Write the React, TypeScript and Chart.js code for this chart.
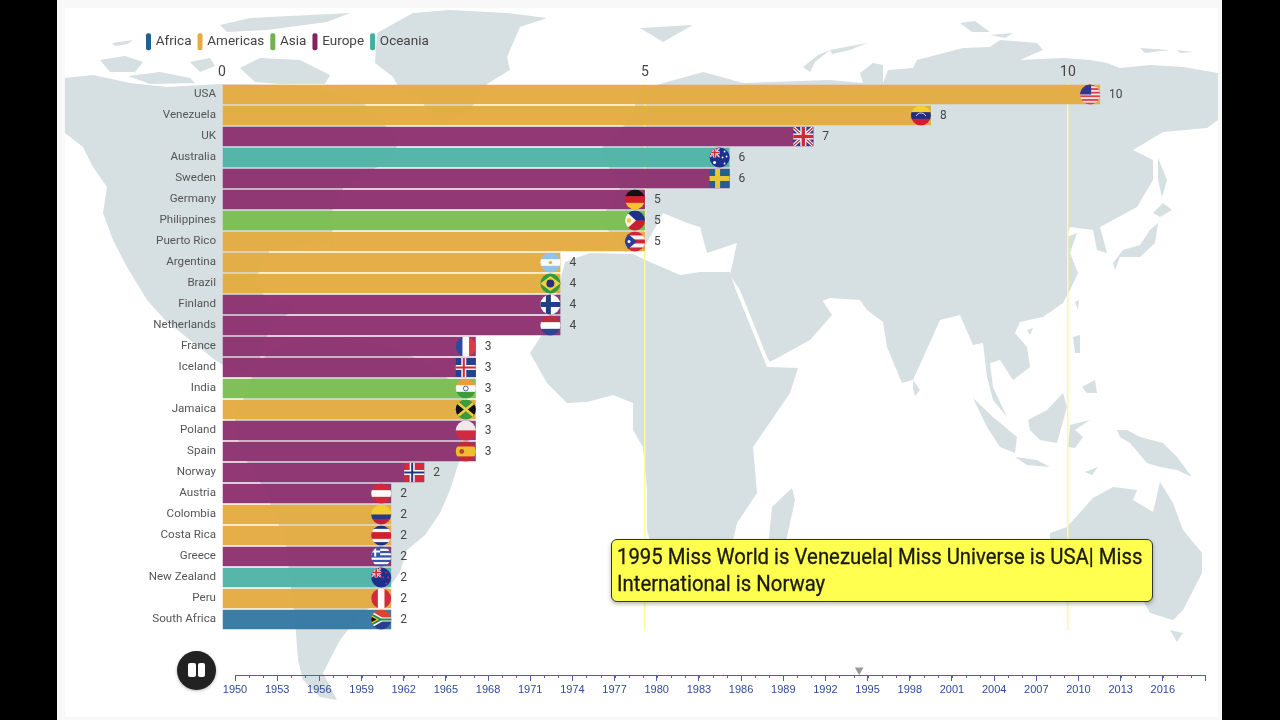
import { useEffect, useRef } from "react";
import Chart from "chart.js/auto";

const countries = ["USA", "Venezuela", "UK", "Australia", "Sweden", "Germany", "Philippines", "Puerto Rico", "Argentina", "Brazil", "Finland", "Netherlands", "France", "Iceland", "India", "Jamaica", "Poland", "Spain", "Norway", "Austria", "Colombia", "Costa Rica", "Greece", "New Zealand", "Peru", "South Africa"];
// bars are caught mid animation, so a few of them sit past their printed value
const barValues = [10.38, 8.38, 6.99, 6, 6, 5, 5, 5, 4, 4, 4, 4, 3, 3, 3, 3, 3, 3, 2.39, 2, 2, 2, 2, 2, 2, 2];
const valueLabels = [10, 8, 7, 6, 6, 5, 5, 5, 4, 4, 4, 4, 3, 3, 3, 3, 3, 3, 2, 2, 2, 2, 2, 2, 2, 2];
const barContinents = ["Americas", "Americas", "Europe", "Oceania", "Europe", "Europe", "Asia", "Americas", "Americas", "Americas", "Europe", "Europe", "Europe", "Europe", "Asia", "Americas", "Europe", "Europe", "Europe", "Europe", "Americas", "Americas", "Europe", "Oceania", "Americas", "Africa"];
const continents = ["Africa", "Americas", "Asia", "Europe", "Oceania"];
const xTicks = [0, 5, 10];
const timelineYears = [1950, 1953, 1956, 1959, 1962, 1965, 1968, 1971, 1974, 1977, 1980, 1983, 1986, 1989, 1992, 1995, 1998, 2001, 2004, 2007, 2010, 2013, 2016];
const timelineEnd = 2019;
const currentYear = 1994.4;

const barColors: Record<string, string> = {
  Africa: "rgba(49,118,160,0.95)",
  Americas: "rgba(228,170,62,0.95)",
  Asia: "rgba(122,189,80,0.95)",
  Europe: "rgba(140,46,110,0.95)",
  Oceania: "rgba(78,178,165,0.95)",
};
const legendColors: Record<string, string> = {
  Africa: "#1f6090",
  Americas: "#e8ac3e",
  Asia: "#6fb54e",
  Europe: "#84235f",
  Oceania: "#45aea2",
};

// backdrop map outlines in page pixels, traced by eye
const land: number[][][] = [
  // north america
  [[65,78],[93,75],[130,83],[167,87],[220,84],[300,85],[360,100],[400,140],[390,160],[345,185],[330,215],[335,250],[320,240],[300,245],[270,250],[255,280],[270,305],[290,300],[295,310],[270,325],[265,345],[255,370],[240,375],[215,360],[190,340],[165,320],[147,300],[127,267],[113,240],[103,213],[107,187],[93,167],[83,147],[65,133]],
  // south america
  [[255,370],[270,350],[300,337],[340,338],[385,345],[420,360],[450,380],[472,410],[470,440],[458,465],[450,490],[440,513],[425,535],[407,550],[400,572],[380,600],[360,615],[340,640],[323,673],[337,700],[320,697],[303,680],[298,660],[295,620],[290,580],[285,540],[265,490],[240,450],[235,420],[245,395]],
  // greenland
  [[413,13],[450,10],[507,13],[547,18],[520,27],[513,43],[507,57],[510,70],[487,84],[470,110],[440,125],[420,100],[397,84],[393,77],[375,63],[377,33]],
  // canadian arctic
  [[220,25],[250,18],[350,13],[327,22],[267,30],[227,32]],
  [[112,43],[133,40],[128,44],[115,46]],
  [[100,60],[125,56],[143,62],[135,72],[110,72]],
  [[128,76],[160,72],[190,78],[195,83],[150,84]],
  [[190,62],[210,58],[215,66],[200,72]],
  [[240,68],[260,58],[300,60],[330,75],[325,84],[280,84],[255,82]],
  // eurasia
  [[740,290],[730,275],[737,243],[707,253],[700,227],[687,223],[663,213],[643,250],[625,252],[600,220],[620,190],[600,150],[630,120],[640,90],[667,82],[703,72],[743,83],[830,80],[863,83],[883,83],[888,70],[913,68],[917,60],[963,48],[990,47],[1000,40],[1037,43],[1043,50],[1020,60],[1063,58],[1090,60],[1107,63],[1120,68],[1150,65],[1183,67],[1218,73],[1218,120],[1207,128],[1163,132],[1133,150],[1153,160],[1153,180],[1137,207],[1100,227],[1107,253],[1097,250],[1093,230],[1070,227],[1067,237],[1077,233],[1070,253],[1078,273],[1070,290],[1063,303],[1043,317],[1020,322],[1015,333],[1027,347],[1030,367],[1013,380],[1000,360],[990,363],[993,387],[1007,417],[993,400],[987,377],[983,343],[973,345],[960,315],[940,320],[913,380],[902,383],[887,347],[883,322],[867,310],[860,300],[830,298],[817,303],[803,300],[793,290],[820,297],[832,315],[810,340],[770,362],[767,357]],
  // africa
  [[565,262],[590,253],[633,254],[650,262],[680,275],[700,272],[730,272],[735,288],[767,367],[798,368],[790,393],[753,447],[757,493],[737,523],[733,540],[715,575],[680,590],[660,580],[647,530],[647,490],[643,447],[633,430],[633,403],[613,395],[587,402],[567,403],[547,383],[530,353],[543,333],[555,300]],
  // madagascar
  [[792,488],[795,500],[787,537],[782,548],[768,548],[772,507]],
  // svalbard and the arctic islands
  [[640,28],[693,25],[663,42]],
  [[860,73],[873,63],[883,65],[883,83],[863,83]],
  [[960,23],[975,21],[990,32],[972,32]],
  [[990,35],[1013,33],[1005,38]],
  [[830,50],[867,43],[850,50],[832,54]],
  [[1140,48],[1170,50],[1145,53]],
  [[1177,50],[1193,52],[1180,53]],
  [[803,67],[818,55],[830,50],[815,62],[810,72]],
  // sakhalin, japan
  [[1158,158],[1167,180],[1162,197],[1158,180]],
  [[1153,213],[1163,203],[1172,210],[1160,217]],
  [[1113,263],[1123,250],[1140,245],[1150,230],[1158,223],[1155,243],[1140,257],[1120,257],[1115,270]],
  // south east asia
  [[1075,302],[1079,300],[1078,310]],
  [[1027,330],[1033,328],[1030,335]],
  [[913,380],[920,390],[915,396],[913,388]],
  [[973,398],[993,417],[1017,437],[1015,453],[1000,447],[987,427]],
  [[1015,457],[1037,460],[1050,467],[1027,465]],
  [[1028,420],[1047,410],[1063,393],[1067,407],[1057,443],[1040,440],[1030,430]],
  [[1070,425],[1090,420],[1075,430],[1083,437],[1075,448],[1068,447]],
  [[1073,337],[1080,335],[1080,353],[1075,353]],
  [[1082,387],[1095,380],[1097,393],[1087,393]],
  [[1085,472],[1098,467],[1092,475]],
  // new guinea
  [[1117,430],[1127,430],[1140,437],[1163,443],[1177,457],[1192,477],[1177,470],[1160,467],[1147,463],[1130,443],[1120,437]],
  // australia, tasmania
  [[1050,533],[1067,527],[1093,498],[1113,487],[1137,490],[1133,500],[1153,512],[1160,482],[1173,503],[1183,530],[1202,553],[1202,573],[1183,610],[1173,620],[1150,613],[1143,600],[1050,590]],
  [[1170,630],[1183,633],[1177,642]],
];

type Ctx = CanvasRenderingContext2D;

function hStripes(ctx: Ctx, colors: string[], weights?: number[]) {
  const total = (weights ?? colors.map(() => 1)).reduce((a, b) => a + b, 0);
  let y = -10;
  colors.forEach((c, i) => {
    const h = (20 * (weights ? weights[i] : 1)) / total;
    ctx.fillStyle = c;
    ctx.fillRect(-11, y, 22, h + 0.3);
    y += h;
  });
}
function vStripes(ctx: Ctx, colors: string[]) {
  colors.forEach((c, i) => {
    ctx.fillStyle = c;
    ctx.fillRect(-10 + (20 * i) / colors.length, -11, 20 / colors.length + 0.3, 22);
  });
}
function poly(ctx: Ctx, color: string, pts: number[][]) {
  ctx.fillStyle = color;
  ctx.beginPath();
  pts.forEach(([x, y], i) => (i ? ctx.lineTo(x, y) : ctx.moveTo(x, y)));
  ctx.closePath();
  ctx.fill();
}
function dot(ctx: Ctx, color: string, x: number, y: number, r: number) {
  ctx.fillStyle = color;
  ctx.beginPath();
  ctx.arc(x, y, r, 0, Math.PI * 2);
  ctx.fill();
}
function nordic(ctx: Ctx, bg: string, outer: string, inner?: string) {
  ctx.fillStyle = bg;
  ctx.fillRect(-11, -11, 22, 22);
  ctx.fillStyle = outer;
  ctx.fillRect(-4.5, -11, 5, 22);
  ctx.fillRect(-11, -2.5, 22, 5);
  if (inner) {
    ctx.fillStyle = inner;
    ctx.fillRect(-3, -11, 2, 22);
    ctx.fillRect(-11, -1, 22, 2);
  }
}
function unionJack(ctx: Ctx) {
  ctx.fillStyle = "#27408b";
  ctx.fillRect(-11, -11, 22, 22);
  ctx.lineCap = "butt";
  ctx.strokeStyle = "#fff";
  ctx.lineWidth = 3.4;
  ctx.beginPath();
  ctx.moveTo(-11, -10);
  ctx.lineTo(11, 10);
  ctx.moveTo(11, -10);
  ctx.lineTo(-11, 10);
  ctx.stroke();
  ctx.strokeStyle = "#cf2a3c";
  ctx.lineWidth = 1.3;
  ctx.stroke();
  ctx.fillStyle = "#fff";
  ctx.fillRect(-3, -11, 6, 22);
  ctx.fillRect(-11, -3, 22, 6);
  ctx.fillStyle = "#cf2a3c";
  ctx.fillRect(-1.7, -11, 3.4, 22);
  ctx.fillRect(-11, -1.7, 22, 3.4);
}
function smallJack(ctx: Ctx) {
  ctx.save();
  ctx.beginPath();
  ctx.rect(-10, -10, 10, 10);
  ctx.clip();
  ctx.translate(-5, -5);
  ctx.scale(0.5, 0.5);
  unionJack(ctx);
  ctx.restore();
}

// flags are only decoration at the end of each bar
const flags: Record<string, (ctx: Ctx) => void> = {
  USA: (ctx) => {
    hStripes(ctx, ["#d9414f", "#f6e3e3", "#d9414f", "#f6e3e3", "#d9414f", "#f6e3e3", "#d9414f", "#f6e3e3", "#d9414f", "#f6e3e3", "#d9414f"]);
    ctx.fillStyle = "#33378c";
    ctx.fillRect(-11, -11, 12, 11);
  },
  Venezuela: (ctx) => {
    hStripes(ctx, ["#f5cf38", "#1f2f86", "#cf2030"]);
    ctx.strokeStyle = "#e8e8f4";
    ctx.lineWidth = 0.9;
    ctx.beginPath();
    ctx.arc(0, 3, 5.5, Math.PI * 1.15, Math.PI * 1.85);
    ctx.stroke();
  },
  UK: unionJack,
  Australia: (ctx) => {
    ctx.fillStyle = "#1d2f8f";
    ctx.fillRect(-11, -11, 22, 22);
    smallJack(ctx);
    [[-5, 5, 1.5], [5, -6, 0.9], [7, -1, 0.9], [3, 0, 0.9], [5, 6, 0.9]].forEach(([x, y, r]) => dot(ctx, "#fff", x, y, r));
  },
  Sweden: (ctx) => nordic(ctx, "#22608f", "#e9c53a"),
  Germany: (ctx) => hStripes(ctx, ["#111", "#d1202c", "#f4c52e"]),
  Philippines: (ctx) => {
    hStripes(ctx, ["#1f2f8a", "#c8202f"]);
    poly(ctx, "#f6f3e4", [[-11, -11], [1, 0], [-11, 11]]);
    dot(ctx, "#eecb3a", -6, 0, 2.2);
  },
  "Puerto Rico": (ctx) => {
    hStripes(ctx, ["#cf2638", "#f6f0f0", "#cf2638", "#f6f0f0", "#cf2638"]);
    poly(ctx, "#2b3f90", [[-11, -11], [2, 0], [-11, 11]]);
    dot(ctx, "#fff", -6, 0, 1.5);
  },
  Argentina: (ctx) => {
    hStripes(ctx, ["#8fc4e8", "#fbfbfb", "#8fc4e8"]);
    dot(ctx, "#e3b64a", 0, 0, 1.8);
  },
  Brazil: (ctx) => {
    ctx.fillStyle = "#2f9a3e";
    ctx.fillRect(-11, -11, 22, 22);
    poly(ctx, "#f0d33a", [[-10, 0], [0, -7.5], [10, 0], [0, 7.5]]);
    dot(ctx, "#28307e", 0, 0, 4);
  },
  Finland: (ctx) => nordic(ctx, "#fbfbfb", "#1f3f86"),
  Netherlands: (ctx) => hStripes(ctx, ["#b8303f", "#fbfbfb", "#2f4490"]),
  France: (ctx) => vStripes(ctx, ["#2a4a9b", "#fbfbfb", "#dc3b45"]),
  Iceland: (ctx) => nordic(ctx, "#26408f", "#f5f5f5", "#d22a3a"),
  India: (ctx) => {
    hStripes(ctx, ["#ef9a3c", "#fbfbfb", "#3f9a3e"]);
    ctx.strokeStyle = "#2a3f8f";
    ctx.lineWidth = 0.8;
    ctx.beginPath();
    ctx.arc(0, 0, 2.4, 0, Math.PI * 2);
    ctx.stroke();
  },
  Jamaica: (ctx) => {
    hStripes(ctx, ["#3f9a3e"]);
    poly(ctx, "#111", [[-11, -9], [0, 0], [-11, 9]]);
    poly(ctx, "#111", [[11, -9], [0, 0], [11, 9]]);
    ctx.strokeStyle = "#f2cf38";
    ctx.lineWidth = 2.6;
    ctx.beginPath();
    ctx.moveTo(-11, -9);
    ctx.lineTo(11, 9);
    ctx.moveTo(11, -9);
    ctx.lineTo(-11, 9);
    ctx.stroke();
  },
  Poland: (ctx) => hStripes(ctx, ["#f0e8ea", "#d12a40"]),
  Spain: (ctx) => {
    hStripes(ctx, ["#c9262f", "#f0bd30", "#c9262f"], [1, 2, 1]);
    dot(ctx, "#b4442c", -4, 0, 2.4);
  },
  Norway: (ctx) => nordic(ctx, "#d32a3c", "#fff", "#24367f"),
  Austria: (ctx) => hStripes(ctx, ["#d3283c", "#fbfbfb", "#d3283c"]),
  Colombia: (ctx) => hStripes(ctx, ["#f2cc36", "#26398c", "#c9202f"], [2, 1, 1]),
  "Costa Rica": (ctx) => hStripes(ctx, ["#1f2f80", "#f7f7f7", "#d0202f", "#f7f7f7", "#1f2f80"], [1, 1, 2, 1, 1]),
  Greece: (ctx) => {
    hStripes(ctx, ["#3458a8", "#fff", "#3458a8", "#fff", "#3458a8", "#fff", "#3458a8", "#fff", "#3458a8"]);
    ctx.fillStyle = "#3458a8";
    ctx.fillRect(-11, -11, 10, 11);
    ctx.fillStyle = "#fff";
    ctx.fillRect(-7, -10, 2, 10);
    ctx.fillRect(-11, -6, 10, 2);
  },
  "New Zealand": (ctx) => {
    ctx.fillStyle = "#1d2f8f";
    ctx.fillRect(-11, -11, 22, 22);
    smallJack(ctx);
    [[5, -5], [2, 0], [7, 0], [5, 6]].forEach(([x, y]) => dot(ctx, "#d8283a", x, y, 1));
  },
  Peru: (ctx) => vStripes(ctx, ["#d32a3c", "#fbfbfb", "#d32a3c"]),
  "South Africa": (ctx) => {
    hStripes(ctx, ["#d9452f", "#2a3d8f"]);
    poly(ctx, "#fff", [[-11, -9], [1, -2], [11, -2], [11, 2], [1, 2], [-11, 9]]);
    poly(ctx, "#1e8a4a", [[-11, -7], [0, -1], [11, -1], [11, 1], [0, 1], [-11, 7]]);
    poly(ctx, "#f0c030", [[-11, -5], [-2, 0], [-11, 5]]);
    poly(ctx, "#111", [[-11, -3.5], [-4.5, 0], [-11, 3.5]]);
  },
};
const squareFlags = ["UK", "Sweden", "Iceland", "Norway"];

const backdrop = {
  id: "backdrop",
  beforeDraw(chart: Chart) {
    const { ctx, width, height } = chart;
    ctx.save();
    ctx.fillStyle = "#000";
    ctx.fillRect(0, 0, width, height);
    ctx.fillStyle = "#f8f8f8";
    ctx.fillRect(57, 0, 1165, 720);
    ctx.fillStyle = "#fff";
    ctx.fillRect(65, 8, 1153, 709);
    ctx.fillStyle = "#d6dfe2";
    land.forEach((shape) => {
      ctx.beginPath();
      shape.forEach(([x, y], i) => (i ? ctx.lineTo(x, y) : ctx.moveTo(x, y)));
      ctx.closePath();
      ctx.fill();
    });
    ctx.restore();
  },
};

const barEnds = {
  id: "barEnds",
  afterDatasetsDraw(chart: Chart) {
    const { ctx } = chart;
    const bars = chart.getDatasetMeta(0).data;
    bars.forEach((bar, i) => {
      const name = countries[i];
      ctx.save();
      ctx.translate(bar.x - 10, bar.y);
      ctx.beginPath();
      if (squareFlags.includes(name)) ctx.rect(-10, -9.5, 20, 19);
      else ctx.arc(0, 0, 10, 0, Math.PI * 2);
      ctx.clip();
      flags[name](ctx);
      ctx.restore();

      ctx.save();
      ctx.fillStyle = "#444";
      ctx.font = "12px Roboto";
      ctx.textBaseline = "middle";
      ctx.fillText(String(valueLabels[i]), bar.x + 9, bar.y + 0.5);
      ctx.restore();
    });
  },
};

const yearTicks = {
  id: "yearTicks",
  afterDraw(chart: Chart) {
    const { ctx } = chart;
    const scale = chart.scales.x;
    ctx.save();
    ctx.strokeStyle = "#4a62a8";
    ctx.lineWidth = 1;
    ctx.beginPath();
    for (let year = 1950; year <= timelineEnd; year++) {
      const x = Math.round(scale.getPixelForValue(year)) + 0.5;
      ctx.moveTo(x, scale.top);
      ctx.lineTo(x, scale.top + 3);
    }
    ctx.stroke();
    ctx.restore();
  },
};

export default function App() {
  const mainRef = useRef<HTMLCanvasElement | null>(null);
  const timelineRef = useRef<HTMLCanvasElement | null>(null);

  useEffect(() => {
    if (!mainRef.current || !timelineRef.current) return;

    const main = new Chart(mainRef.current, {
      type: "bar",
      data: {
        labels: countries,
        datasets: [
          {
            data: barValues,
            backgroundColor: barContinents.map((c) => barColors[c]),
            borderWidth: 0,
            barPercentage: 0.92,
            categoryPercentage: 1,
          },
        ],
      },
      plugins: [backdrop, barEnds],
      options: {
        indexAxis: "y",
        animation: false,
        responsive: false,
        events: [],
        layout: { padding: { left: 140, top: 27, right: 20, bottom: 90 } },
        plugins: {
          tooltip: { enabled: false },
          legend: {
            position: "top",
            align: "start",
            labels: {
              boxWidth: 1,
              boxHeight: 13,
              padding: 8,
              font: { family: "Roboto", size: 13.5 },
              color: "#444",
              generateLabels: () =>
                continents.map((c) => ({
                  text: c,
                  fillStyle: legendColors[c],
                  strokeStyle: legendColors[c],
                  lineWidth: 4,
                  lineJoin: "round",
                  fontColor: "#444",
                })),
            },
          },
        },
        scales: {
          x: {
            position: "top",
            min: 0,
            max: 12.27,
            afterBuildTicks: (scale: any) => {
              scale.ticks = xTicks.map((value) => ({ value }));
            },
            afterFit: (scale: any) => {
              scale.height = 84 - 27 - scale.chart.legend.height;
            },
            border: { display: false },
            grid: {
              drawTicks: false,
              color: (c: any) => (c.tick && c.tick.value > 0 ? "#fbfb9c" : "rgba(0,0,0,0)"),
              lineWidth: 1.5,
            },
            ticks: {
              padding: 3,
              color: "#444",
              font: { family: "Roboto", size: 14 },
            },
          },
          y: {
            afterFit: (scale: any) => {
              scale.width = 82;
            },
            border: { display: false },
            grid: { display: false, drawTicks: false },
            ticks: {
              autoSkip: false,
              padding: 6,
              color: "#555",
              font: { family: "Roboto", size: 11.6 },
            },
          },
        },
      },
    });

    const timeline = new Chart(timelineRef.current, {
      type: "scatter",
      data: {
        datasets: [
          {
            data: [{ x: currentYear, y: 0.14 }],
            pointStyle: "triangle",
            rotation: 180,
            radius: 5,
            backgroundColor: "#9a9a9a",
            borderWidth: 0,
          },
        ],
      },
      plugins: [yearTicks],
      options: {
        animation: false,
        responsive: false,
        events: [],
        layout: { padding: { left: 235, right: 75, top: 640, bottom: 21 } },
        plugins: { legend: { display: false }, tooltip: { enabled: false } },
        scales: {
          y: { display: false, min: 0, max: 1 },
          x: {
            type: "linear",
            min: 1950,
            max: timelineEnd,
            afterBuildTicks: (scale: any) => {
              scale.ticks = [...timelineYears, timelineEnd].map((value) => ({ value }));
            },
            afterFit: (scale: any) => {
              scale.height = 24;
            },
            border: { color: "#4a62a8" },
            grid: { drawOnChartArea: false, tickLength: 6, tickColor: "#4a62a8" },
            ticks: {
              maxRotation: 0,
              autoSkip: false,
              padding: 2,
              color: "#2f4b9a",
              font: { family: "Liberation Sans", size: 11 },
              callback: (v: any) => (v === timelineEnd ? "" : String(v)),
            },
          },
        },
      },
    });

    return () => {
      main.destroy();
      timeline.destroy();
    };
  }, []);

  return (
    <div style={{ position: "fixed", inset: 0, background: "#000", overflow: "hidden" }}>
      <canvas ref={mainRef} width={1280} height={720} style={{ position: "absolute", left: 0, top: 0 }} />
      <canvas ref={timelineRef} width={1280} height={720} style={{ position: "absolute", left: 0, top: 0 }} />
      <div
        style={{
          position: "absolute",
          left: 611,
          top: 539,
          width: 540,
          height: 61,
          boxSizing: "content-box",
          background: "#ffff50",
          border: "1px solid #333",
          borderRadius: 6,
          boxShadow: "0 2px 4px rgba(0,0,0,0.3)",
          overflow: "hidden",
        }}
      >
        <div
          style={{
            position: "absolute",
            left: 5,
            top: 3,
            font: "22px/27px Roboto",
            color: "#1a1a10",
            whiteSpace: "nowrap",
            transform: "scaleX(0.924)",
            transformOrigin: "left top",
            WebkitTextStroke: "0.3px #1a1a10",
          }}
        >
          1995 Miss World is Venezuela| Miss Universe is USA| Miss
          <br />
          International is Norway
        </div>
      </div>
      <div
        style={{
          position: "absolute",
          left: 177,
          top: 651,
          width: 39,
          height: 39,
          borderRadius: "50%",
          background: "#222",
          boxShadow: "0 1px 3px rgba(0,0,0,0.3)",
        }}
      >
        <div style={{ position: "absolute", left: 11, top: 12, width: 8, height: 14, borderRadius: 2, background: "#fff" }} />
        <div style={{ position: "absolute", left: 21, top: 12, width: 7, height: 14, borderRadius: 2, background: "#fff" }} />
      </div>
    </div>
  );
}
